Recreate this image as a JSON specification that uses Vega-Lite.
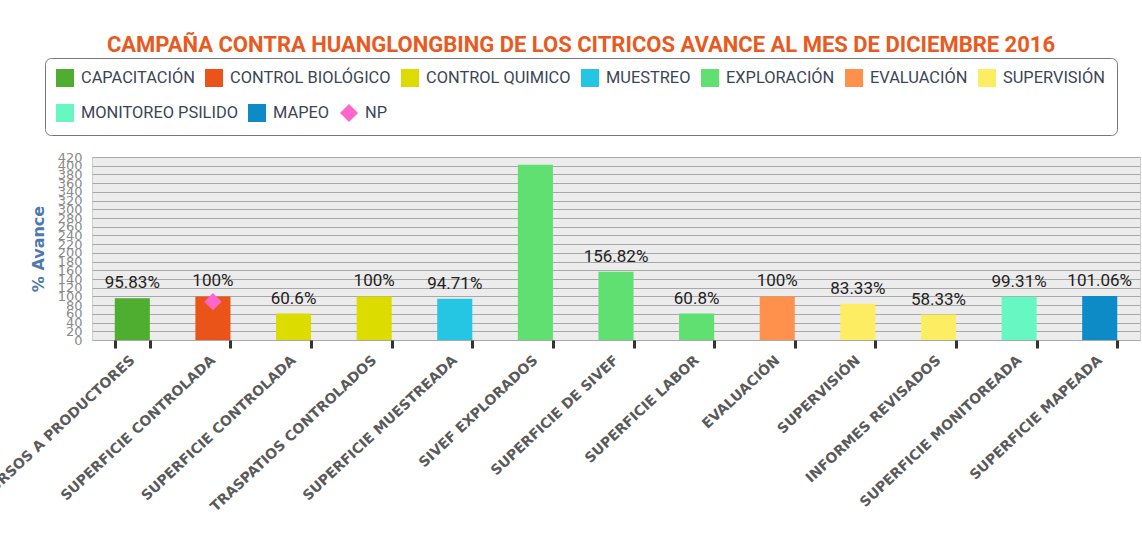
{
  "$schema": "https://vega.github.io/schema/vega-lite/v6.json",
  "width": 1048,
  "height": 183,
  "autosize": {"type": "none"},
  "padding": {"left": 92, "top": 157, "right": 2, "bottom": 216},
  "background": "white",
  "title": {
    "text": "CAMPAÑA CONTRA HUANGLONGBING DE LOS CITRICOS AVANCE AL MES DE DICIEMBRE 2016",
    "frame": "group",
    "anchor": "middle",
    "offset": 1,
    "dx": -35,
    "font": "Roboto",
    "fontSize": 22,
    "fontWeight": "bold",
    "color": "#e95a22"
  },
  "config": {
    "view": {"fill": "#ececec", "stroke": "#cfcfcf"}
  },
  "data": {
    "values": [
      {"cat": "CURSOS A PRODUCTORES", "serie": "CAPACITACIÓN", "value": 95.83, "etiqueta": "95.83%"},
      {"cat": "SUPERFICIE CONTROLADA", "serie": "CONTROL BIOLÓGICO", "value": 100, "etiqueta": "100%"},
      {"cat": "SUPERFICIE CONTROLADA\u200b", "serie": "CONTROL QUIMICO", "value": 60.6, "etiqueta": "60.6%"},
      {"cat": "TRASPATIOS CONTROLADOS", "serie": "CONTROL QUIMICO", "value": 100, "etiqueta": "100%"},
      {"cat": "SUPERFICIE MUESTREADA", "serie": "MUESTREO", "value": 94.71, "etiqueta": "94.71%"},
      {"cat": "SIVEF EXPLORADOS", "serie": "EXPLORACIÓN", "value": 402, "etiqueta": ""},
      {"cat": "SUPERFICIE DE SIVEF", "serie": "EXPLORACIÓN", "value": 156.82, "etiqueta": "156.82%"},
      {"cat": "SUPERFICIE LABOR", "serie": "EXPLORACIÓN", "value": 60.8, "etiqueta": "60.8%"},
      {"cat": "EVALUACIÓN", "serie": "EVALUACIÓN", "value": 100, "etiqueta": "100%"},
      {"cat": "SUPERVISIÓN", "serie": "SUPERVISIÓN", "value": 83.33, "etiqueta": "83.33%"},
      {"cat": "INFORMES REVISADOS", "serie": "SUPERVISIÓN", "value": 58.33, "etiqueta": "58.33%"},
      {"cat": "SUPERFICIE MONITOREADA", "serie": "MONITOREO PSILIDO", "value": 99.31, "etiqueta": "99.31%"},
      {"cat": "SUPERFICIE MAPEADA", "serie": "MAPEO", "value": 101.06, "etiqueta": "101.06%"}
    ]
  },
  "encoding": {
    "x": {
      "field": "cat",
      "type": "nominal",
      "sort": null,
      "scale": {
        "domain": ["CURSOS A PRODUCTORES", "SUPERFICIE CONTROLADA", "SUPERFICIE CONTROLADA\u200b", "TRASPATIOS CONTROLADOS", "SUPERFICIE MUESTREADA", "SIVEF EXPLORADOS", "SUPERFICIE DE SIVEF", "SUPERFICIE LABOR", "EVALUACIÓN", "SUPERVISIÓN", "INFORMES REVISADOS", "SUPERFICIE MONITOREADA", "SUPERFICIE MAPEADA"],
        "paddingInner": 0.565,
        "paddingOuter": 0.2825
      },
      "axis": {
        "title": null,
        "labelAngle": -43,
        "labelAlign": "right",
        "labelBaseline": "middle",
        "labelFont": "DejaVu Sans",
        "labelFontSize": 14,
        "labelFontWeight": "bold",
        "labelColor": "#5a5a5a",
        "labelPadding": 10,
        "labelLimit": 400,
        "labelOverlap": false,
        "tickBand": "extent",
        "tickColor": "#333333",
        "tickWidth": 3,
        "tickSize": 8,
        "domain": false,
        "grid": false
      }
    },
    "y": {
      "field": "value",
      "type": "quantitative",
      "scale": {"domain": [0, 420], "nice": false},
      "axis": {
        "values": [0, 20, 40, 60, 80, 100, 120, 140, 160, 180, 200, 220, 240, 260, 280, 300, 320, 340, 360, 380, 400, 420],
        "labelFont": "DejaVu Sans",
        "labelFontSize": 13,
        "labelColor": "#8a8a8a",
        "labelOverlap": false,
        "labelPadding": 10,
        "ticks": false,
        "domain": false,
        "gridColor": "#a8a8a8",
        "gridWidth": 1,
        "gridOpacity": 1,
        "title": "% Avance",
        "titleFont": "DejaVu Sans",
        "titleFontSize": 16,
        "titleFontWeight": "bold",
        "titleColor": "#4c7aa9",
        "titleX": -54,
        "titleY": 91.5,
        "titleAngle": -90,
        "titleAlign": "center",
        "titleBaseline": "middle"
      }
    }
  },
  "layer": [
    {
      "transform": [{"filter": {"field": "serie", "oneOf": ["CAPACITACIÓN", "CONTROL BIOLÓGICO", "CONTROL QUIMICO", "MUESTREO", "EXPLORACIÓN", "EVALUACIÓN", "SUPERVISIÓN"]}}],
      "mark": {"type": "bar", "opacity": 1},
      "encoding": {
        "color": {
          "field": "serie",
          "type": "nominal",
          "scale": {
            "domain": ["CAPACITACIÓN", "CONTROL BIOLÓGICO", "CONTROL QUIMICO", "MUESTREO", "EXPLORACIÓN", "EVALUACIÓN", "SUPERVISIÓN"],
            "range": ["#4fae2f", "#ea5419", "#dcdc00", "#25c6e3", "#60e070", "#ff914d", "#fded62"]
          },
          "legend": {
            "orient": "none",
            "legendX": -47,
            "legendY": -99,
            "direction": "horizontal",
            "columns": 7,
            "title": " ",
            "titleOrient": "bottom",
            "titleFontSize": 22,
            "titlePadding": 16,
            "padding": 11,
            "strokeColor": "#777777",
            "cornerRadius": 6,
            "symbolType": "square",
            "symbolSize": 324,
            "symbolStrokeWidth": 0,
            "symbolOpacity": 1,
            "labelFont": "Roboto",
            "labelFontSize": 16.4,
            "labelColor": "#3a4656",
            "labelOffset": 7,
            "labelLimit": 300,
            "columnPadding": 10
          }
        }
      }
    },
    {
      "transform": [{"filter": {"field": "serie", "oneOf": ["MONITOREO PSILIDO", "MAPEO"]}}],
      "mark": {"type": "bar", "opacity": 1},
      "encoding": {
        "fill": {
          "field": "serie",
          "type": "nominal",
          "scale": {
            "domain": ["MONITOREO PSILIDO", "MAPEO", "NP"],
            "range": ["#66f7c2", "#0d8bc7", "#ff66cc"]
          },
          "legend": {
            "orient": "none",
            "legendX": -36,
            "legendY": -53,
            "direction": "horizontal",
            "columns": 3,
            "title": null,
            "padding": 0,
            "symbolType": "square",
            "symbolSize": 324,
            "symbolStrokeWidth": 0,
            "symbolOpacity": 1,
            "labelFont": "Roboto",
            "labelFontSize": 16.4,
            "labelColor": "#3a4656",
            "labelOffset": 7,
            "labelLimit": 300,
            "columnPadding": 10,
            "encode": {
              "symbols": {
                "update": {
                  "shape": {"signal": "datum.value === 'NP' ? 'diamond' : 'square'"}
                }
              }
            }
          }
        }
      }
    },
    {
      "mark": {
        "type": "text",
        "baseline": "bottom",
        "dy": -6,
        "font": "Roboto",
        "fontSize": 17,
        "color": "#222222"
      },
      "encoding": {
        "text": {"field": "etiqueta", "type": "nominal"}
      }
    },
    {
      "data": {"values": [{"cat": "SUPERFICIE CONTROLADA", "serie": "NP", "value": 88}]},
      "mark": {"type": "point", "shape": "diamond", "filled": true, "size": 300, "opacity": 1, "strokeWidth": 0},
      "encoding": {
        "fill": {"field": "serie", "type": "nominal"}
      }
    }
  ]
}
